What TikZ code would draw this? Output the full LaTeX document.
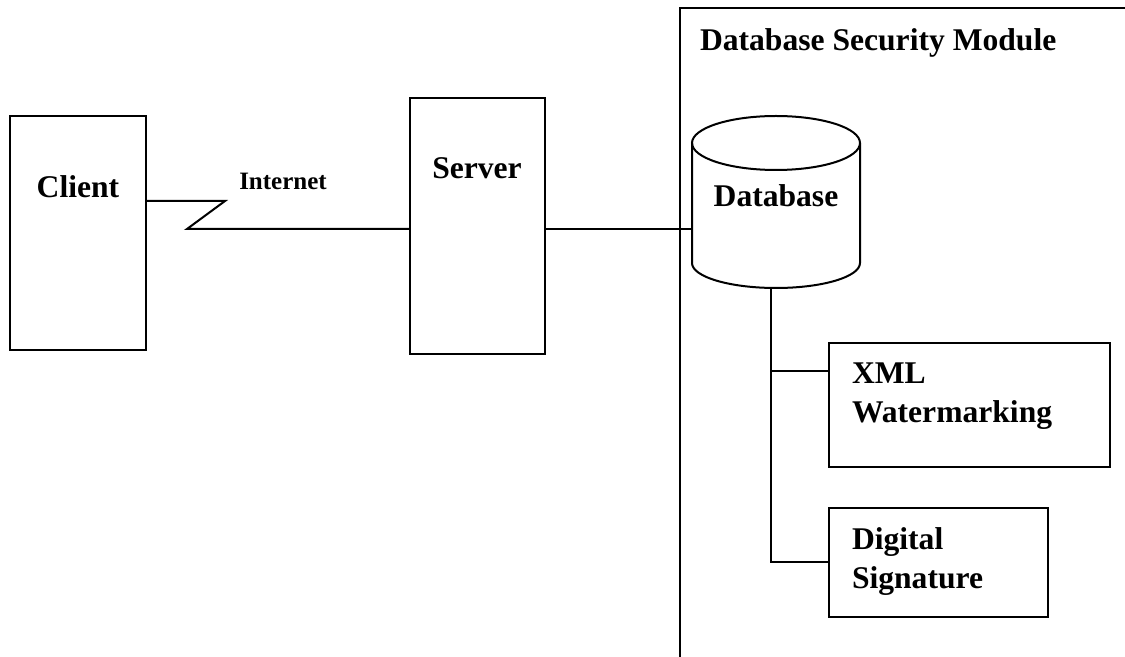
\documentclass[tikz,border=0pt]{standalone}
\usepackage{fontspec}
\setmainfont{Liberation Serif}
\begin{document}
\begin{tikzpicture}[x=0.5pt,y=-0.5pt,
  line width=1pt,
  box/.style={draw, rectangle, inner sep=0pt},
  lbl/.style={inner sep=0pt, font=\fontsize{15.8}{19.5}\selectfont\bfseries},
  small/.style={inner sep=0pt, font=\fontsize{12.5}{15}\selectfont\bfseries},
  wire/.style={draw, line join=miter}]
\useasboundingbox (0,0) rectangle (1125,657);

% module frame: top edge and left edge only
\draw (1125,8) -- (680,8) -- (680,657);
\node[lbl, anchor=west] (title) at (699,43) {Database Security Module};

% client and server boxes
\node[box, minimum width=68pt, minimum height=117pt] (client) at (78,233) {};
\node[lbl] (clientlbl) at (78,187) {Client};
\node[box, minimum width=67.5pt, minimum height=128pt] (server) at (477.5,226) {};
\node[lbl] (serverlbl) at (477,168) {Server};

% internet link with a zig-zag
\coordinate (zigA) at (225,201);
\coordinate (zigB) at (187,229);
\node[small] (internet) at (283,181) {Internet};
\draw[wire] (client.east |- zigA) -- (zigA) -- (zigB) -- (zigB -| server.west);

% database cylinder
\node[inner sep=0pt, minimum width=84pt, minimum height=85.5pt] (db) at (776,202.5) {};
\draw (776,143) ellipse [x radius=84, y radius=27];
\draw (692,143) -- (692,263)
      arc [start angle=180, end angle=0, x radius=84, y radius=25]
      -- (860,143);
\node[lbl] (dblbl) at (776,196) {Database};

% server to database
\draw[wire] (server.east |- zigB) -- (zigB -| db.west);

% security components
\node[box, minimum width=140.5pt, minimum height=62pt] (xml) at (969.5,405) {};
\node[lbl, anchor=north west, align=left] (xmllbl) at (851,362) {XML\\Watermarking};
\node[box, minimum width=109.5pt, minimum height=54.5pt] (dsig) at (938.5,562.5) {};
\node[lbl, anchor=north west, align=left] (dsiglbl) at (851,527) {Digital\\Signature};

\coordinate (dbout) at (771,288);
\coordinate (tee) at (771,371);
\draw[wire] (dbout) -- (dbout |- dsig.west) -- (dsig.west);
\draw[wire] (tee) -- (tee -| xml.west);
\end{tikzpicture}
\end{document}
